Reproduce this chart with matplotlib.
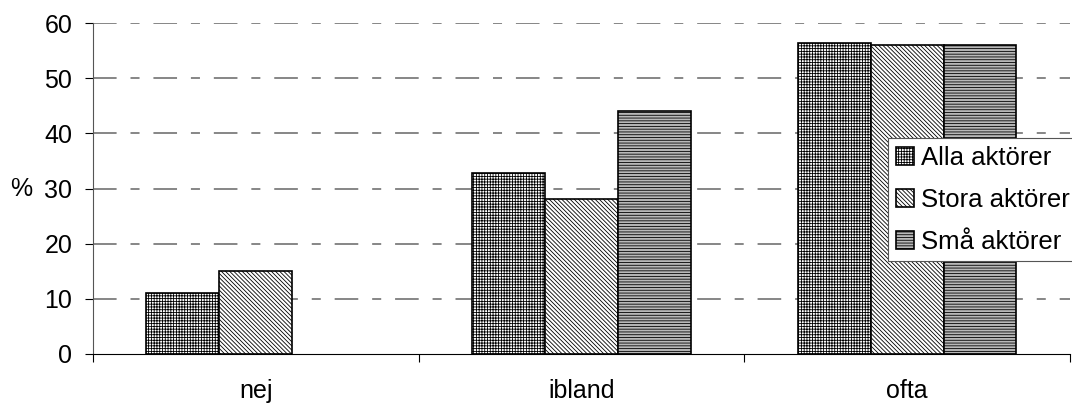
import matplotlib.pyplot as plt
import matplotlib as mpl
import matplotlib.patches as mpatches
import numpy as np

plt.rcParams['font.family'] = ['Liberation Sans', 'DejaVu Sans']
mpl.rcParams['hatch.linewidth'] = 0.6
mpl.rcParams['lines.scale_dashes'] = False

categories = ['nej', 'ibland', 'ofta']
series = ['Alla aktörer', 'Stora aktörer', 'Små aktörer']
alla = [11.0, 32.8, 56.4]
stora = [15.0, 28.1, 56.0]
sma = [0.0, 44.0, 56.0]
yticks = [0, 10, 20, 30, 40, 50, 60]

values = [alla, stora, sma]
hatches = ['++++++', '\\\\\\\\\\\\\\\\', '------']
faces = ['white', 'white', '#b8b8b8']

fig = plt.figure(figsize=(10.72, 4.05), dpi=100)
ax = fig.add_axes([0.0868, 0.126, 0.9112, 0.817])

x = np.arange(len(categories)) + 0.5
w = 0.224
handles = []
for i, (vals, h, fc, name) in enumerate(zip(values, hatches, faces, series)):
    bars = ax.bar(x + (i - 1) * w, vals, w, facecolor=fc, edgecolor='black',
                  hatch=h, linewidth=1.2, zorder=3)
    for b in bars:
        if b.get_height() == 0:
            b.set_visible(False)
    handles.append(mpatches.Patch(facecolor=fc, edgecolor='black', hatch=h,
                                  linewidth=1.2, label=name))

ax.set_xlim(0, 3)
ax.set_ylim(0, 60)
ax.set_yticks(yticks)
ax.tick_params(axis='y', labelsize=18, length=6, pad=9, direction='out', width=0.8)
for y in yticks[1:]:
    ax.axhline(y, color='#666666', lw=1.1, dashes=(17, 10, 6.5, 10), zorder=1)

ax.set_xticks([0, 1, 2, 3])
ax.set_xticklabels([])
ax.tick_params(axis='x', which='major', length=6, width=0.8, direction='out')
ax.set_xticks(x, minor=True)
ax.set_xticklabels(categories, minor=True, fontsize=18)
ax.tick_params(axis='x', which='minor', length=0, pad=18)

for s in ['top', 'right']:
    ax.spines[s].set_visible(False)
ax.spines['left'].set_color('#555555')
ax.spines['bottom'].set_color('black')

ax.set_ylabel('%', rotation=0, fontsize=18, va='center', ha='left')
ax.yaxis.set_label_coords(-0.085, 0.5)

leg = ax.legend(handles=handles, loc='upper left',
                bbox_to_anchor=(888 / 1072, 1 - 138 / 405),
                bbox_transform=fig.transFigure, fontsize=18.5, frameon=True,
                fancybox=False, edgecolor='#555555', framealpha=1,
                handlelength=0.7, handleheight=0.7, handletextpad=0.3,
                borderpad=0.3, labelspacing=0.7, borderaxespad=0)
leg.get_frame().set_linewidth(0.8)

fig.savefig('out.png', dpi=100)
